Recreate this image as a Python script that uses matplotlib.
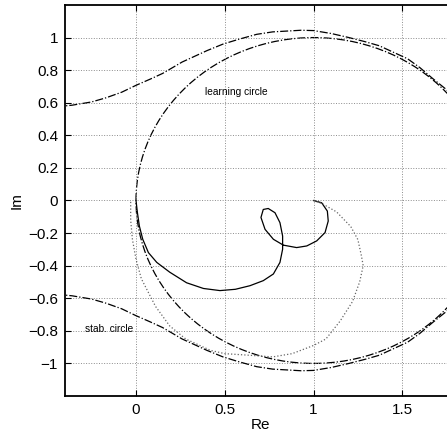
import matplotlib
matplotlib.use("Agg")
from matplotlib import pyplot as plt
from matplotlib.patches import Circle

plt.rcParams["font.family"] = ["Liberation Sans", "DejaVu Sans"]

# solid curve (compensated Nyquist curve)
sol_re = [1.0, 1.046, 1.078, 1.083, 1.065, 1.018, 0.962, 0.905, 0.83, 0.774,
          0.727, 0.704, 0.717, 0.745, 0.783, 0.811, 0.826, 0.826, 0.811, 0.774,
          0.717, 0.642, 0.56, 0.473, 0.38, 0.285, 0.19, 0.117, 0.07, 0.038,
          0.019, 0.008, 0.0]
sol_im = [0.0, -0.014, -0.065, -0.126, -0.197, -0.248, -0.279, -0.289, -0.274, -0.238,
          -0.177, -0.104, -0.055, -0.049, -0.075, -0.136, -0.218, -0.299, -0.38, -0.451,
          -0.492, -0.523, -0.545, -0.553, -0.54, -0.505, -0.44, -0.38, -0.32, -0.238,
          -0.157, -0.075, 0.0]

# dotted curve (plant)
dot_re = [1.0, 1.05, 1.13, 1.21, 1.25, 1.27, 1.28, 1.26, 1.22, 1.15, 1.07, 1.0,
          0.88, 0.77, 0.64, 0.5, 0.42, 0.32, 0.28, 0.19, 0.11, 0.03, 0.0,
          -0.02, -0.03, -0.03]
dot_im = [0.0, -0.02, -0.07, -0.16, -0.24, -0.34, -0.40, -0.50, -0.62, -0.74, -0.85, -0.89,
          -0.94, -0.96, -0.95, -0.94, -0.92, -0.87, -0.85, -0.77, -0.65, -0.48, -0.36,
          -0.24, -0.12, 0.0]

# stability boundary, upper branch (lower branch is its mirror image)
stab_re = [-0.45, -0.36, -0.25, -0.17, -0.08, 0.0, 0.08, 0.15, 0.26, 0.32, 0.40,
           0.49, 0.58, 0.68, 0.77, 0.85, 0.93, 1.0, 1.1, 1.2, 1.29, 1.37, 1.45,
           1.53, 1.6, 1.67, 1.75, 1.85]
stab_im = [0.575, 0.585, 0.605, 0.63, 0.665, 0.707, 0.745, 0.78, 0.85, 0.88, 0.92,
           0.96, 0.99, 1.02, 1.035, 1.04, 1.045, 1.043, 1.025, 1.0, 0.975, 0.95, 0.91,
           0.87, 0.815, 0.75, 0.68, 0.58]

learn_center = (1.0, 0.0)
learn_radius = 1.0

fig = plt.figure(figsize=(4.47, 4.36), dpi=100)
ax = fig.add_axes([65 / 447, 40 / 436, 390.5 / 447, 391 / 436])

ax.plot(sol_re, sol_im, "k-", lw=0.9)
ax.plot(dot_re, dot_im, color="0.4", ls=":", lw=0.9)
ax.plot(stab_re, stab_im, "k-.", lw=0.9)
ax.plot(stab_re, [-v for v in stab_im], "k-.", lw=0.9)
ax.add_patch(Circle(learn_center, learn_radius, fill=False, ec="k", ls="-.", lw=0.9))

ax.text(0.39, 0.665, "learning circle", fontsize=7.3, va="center")
ax.text(-0.29, -0.79, "stab. circle", fontsize=7.3, va="center")

ax.set_xlim(-0.4, 1.8)
ax.set_ylim(-1.2, 1.2)
ax.set_xticks([0, 0.5, 1, 1.5])
ax.set_xticklabels(["0", "0.5", "1", "1.5"])
yt = [-1, -0.8, -0.6, -0.4, -0.2, 0, 0.2, 0.4, 0.6, 0.8, 1]
ax.set_yticks(yt)
ax.set_yticklabels(["\u22121", "\u22120.8", "\u22120.6", "\u22120.4", "\u22120.2", "0",
                    "0.2", "0.4", "0.6", "0.8", "1"])
ax.tick_params(direction="in", length=4, width=0.8, labelsize=11, pad=5,
               top=True, right=True)
ax.grid(True, color="0.55", ls=":", lw=0.7)
for s in ax.spines.values():
    s.set_linewidth(1.3)

ax.set_xlabel("Re", fontsize=11, labelpad=1)
ax.set_ylabel("Im", fontsize=11, labelpad=3)

fig.savefig("out.png", dpi=100)
